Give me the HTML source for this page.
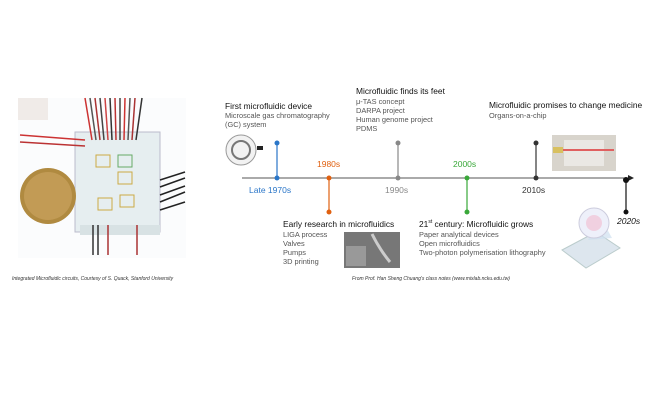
<!DOCTYPE html>
<html><head><meta charset="utf-8"><style>
body{margin:0;width:670px;height:401px;background:#fff;overflow:hidden;position:relative;font-family:"Liberation Sans",sans-serif}
.t{position:absolute;white-space:nowrap;color:#222}
.h{font-size:8.4px;color:#111}
.b{font-size:7.4px;color:#555;line-height:9px}
</style></head><body>
<svg width="670" height="401" style="position:absolute;left:0;top:0">
<rect x="18" y="98" width="168" height="160" fill="#fbfcfd"/>
<rect x="18" y="98" width="30" height="22" fill="#f0ebe8"/>
<rect x="75" y="132" width="85" height="100" fill="#e6eef0" stroke="#bbc" />
<rect x="80" y="225" width="80" height="10" fill="#d8e2e4"/>
<g stroke-width="1.5">
<line x1="85" y1="98" x2="92" y2="140" stroke="#c33"/><line x1="90" y1="98" x2="96" y2="140" stroke="#555"/>
<line x1="95" y1="98" x2="100" y2="140" stroke="#a33"/><line x1="100" y1="98" x2="104" y2="140" stroke="#444"/>
<line x1="105" y1="98" x2="108" y2="140" stroke="#c44"/><line x1="110" y1="98" x2="112" y2="140" stroke="#333"/>
<line x1="115" y1="98" x2="116" y2="140" stroke="#b33"/><line x1="120" y1="98" x2="120" y2="140" stroke="#444"/>
<line x1="125" y1="98" x2="124" y2="140" stroke="#c33"/><line x1="130" y1="98" x2="128" y2="140" stroke="#555"/>
<line x1="135" y1="98" x2="132" y2="140" stroke="#a33"/><line x1="142" y1="98" x2="136" y2="140" stroke="#333"/>
<line x1="20" y1="135" x2="85" y2="140" stroke="#c33"/><line x1="20" y1="142" x2="85" y2="146" stroke="#b33"/>
<line x1="160" y1="180" x2="185" y2="172" stroke="#222"/><line x1="160" y1="187" x2="185" y2="178" stroke="#222"/>
<line x1="160" y1="195" x2="185" y2="186" stroke="#222"/><line x1="160" y1="202" x2="185" y2="192" stroke="#222"/>
<line x1="160" y1="210" x2="185" y2="202" stroke="#222"/>
<line x1="93" y1="225" x2="93" y2="255" stroke="#333"/><line x1="98" y1="225" x2="98" y2="255" stroke="#333"/>
<line x1="108" y1="225" x2="108" y2="255" stroke="#a33"/><line x1="137" y1="225" x2="137" y2="255" stroke="#a33"/>
</g>
<rect x="96" y="155" width="14" height="12" fill="none" stroke="#ca4"/><rect x="118" y="155" width="14" height="12" fill="none" stroke="#6a6"/>
<rect x="118" y="172" width="14" height="12" fill="none" stroke="#ca4"/><rect x="98" y="198" width="14" height="12" fill="none" stroke="#ca4"/>
<rect x="120" y="195" width="14" height="12" fill="none" stroke="#ca4"/>
<circle cx="48" cy="196" r="28" fill="#b08a40"/><circle cx="48" cy="196" r="24" fill="#c29b55"/>
<line x1="242" y1="178" x2="630" y2="178" stroke="#555" stroke-width="1"/>
<polygon points="634,178 628,175 628,181" fill="#222"/>
<line x1="277" y1="143" x2="277" y2="178" stroke="#2a76c8" stroke-width="1.2"/><circle cx="277" cy="143" r="2.5" fill="#2a76c8"/><circle cx="277" cy="178" r="2.5" fill="#2a76c8"/>
<line x1="329" y1="178" x2="329" y2="212" stroke="#e06010" stroke-width="1.2"/><circle cx="329" cy="178" r="2.5" fill="#e06010"/><circle cx="329" cy="212" r="2.5" fill="#e06010"/>
<line x1="398" y1="143" x2="398" y2="178" stroke="#888" stroke-width="1.2"/><circle cx="398" cy="143" r="2.5" fill="#888"/><circle cx="398" cy="178" r="2.5" fill="#888"/>
<line x1="467" y1="178" x2="467" y2="212" stroke="#3aa83a" stroke-width="1.2"/><circle cx="467" cy="178" r="2.5" fill="#3aa83a"/><circle cx="467" cy="212" r="2.5" fill="#3aa83a"/>
<line x1="536" y1="143" x2="536" y2="178" stroke="#333" stroke-width="1.2"/><circle cx="536" cy="143" r="2.5" fill="#333"/><circle cx="536" cy="178" r="2.5" fill="#333"/>
<line x1="626" y1="180" x2="626" y2="212" stroke="#111" stroke-width="1.2"/><circle cx="626" cy="180" r="3" fill="#111"/><circle cx="626" cy="212" r="2.5" fill="#111"/>
<circle cx="241" cy="150" r="15" fill="#f2f2f2" stroke="#999"/><circle cx="241" cy="150" r="9" fill="none" stroke="#777" stroke-width="2"/>
<rect x="257" y="146" width="6" height="4" fill="#222"/>
<rect x="552" y="135" width="64" height="36" fill="#d8d4cc"/><rect x="564" y="140" width="40" height="26" fill="#eae8e4"/>
<line x1="556" y1="150" x2="614" y2="150" stroke="#e06060" stroke-width="2"/><rect x="553" y="147" width="10" height="6" fill="#d8c060"/>
<rect x="344" y="232" width="56" height="36" fill="#777"/><rect x="346" y="246" width="20" height="20" fill="#999"/><path d="M372 234 Q380 250 390 262" stroke="#ccc" stroke-width="3" fill="none"/>
<polygon points="562,250 596,232 620,248 586,268" fill="#dde6ee" stroke="#bcc"/>
<polygon points="588,240 602,220 612,238" fill="#cfe0f0" opacity=".7"/>
<circle cx="594" cy="223" r="15" fill="#eef0fa" stroke="#ccd"/><circle cx="594" cy="223" r="8" fill="#f0d0e0"/>
</svg>
<div class="t h" style="left:225px;top:101px">First microfluidic device</div>
<div class="t b" style="left:225px;top:111px">Microscale gas chromatography<br>(GC) system</div>
<div class="t h" style="left:356px;top:86px">Microfluidic finds its feet</div>
<div class="t b" style="left:356px;top:97px">μ-TAS concept<br>DARPA project<br>Human genome project<br>PDMS</div>
<div class="t h" style="left:489px;top:100px">Microfluidic promises to change medicine</div>
<div class="t b" style="left:489px;top:111px">Organs-on-a-chip</div>
<div class="t" style="left:317px;top:159px;font-size:8.5px;color:#e06010">1980s</div>
<div class="t" style="left:453px;top:159px;font-size:8.5px;color:#3aa83a">2000s</div>
<div class="t" style="left:249px;top:185px;font-size:8.5px;color:#2a76c8">Late 1970s</div>
<div class="t" style="left:385px;top:185px;font-size:8.5px;color:#888">1990s</div>
<div class="t" style="left:522px;top:185px;font-size:8.5px;color:#333">2010s</div>
<div class="t" style="left:617px;top:216px;font-size:8.5px;font-style:italic;color:#111">2020s</div>
<div class="t h" style="left:283px;top:219px">Early research in microfluidics</div>
<div class="t b" style="left:283px;top:230px">LIGA process<br>Valves<br>Pumps<br>3D printing</div>
<div class="t h" style="left:419px;top:219px">21<sup style="font-size:5px">st</sup> century: Microfluidic grows</div>
<div class="t b" style="left:419px;top:230px">Paper analytical devices<br>Open microfluidics<br>Two-photon polymerisation lithography</div>
<div class="t" style="left:352px;top:276px;font-size:5px;font-style:italic;color:#333">From Prof. Han Sheng Chuang's class notes (www.mixlab.ncku.edu.tw)</div>
<div class="t" style="left:12px;top:276px;font-size:5px;font-style:italic;color:#333">Integrated Microfluidic circuits, Courtesy of S. Quack, Stanford University</div>
</body></html>
